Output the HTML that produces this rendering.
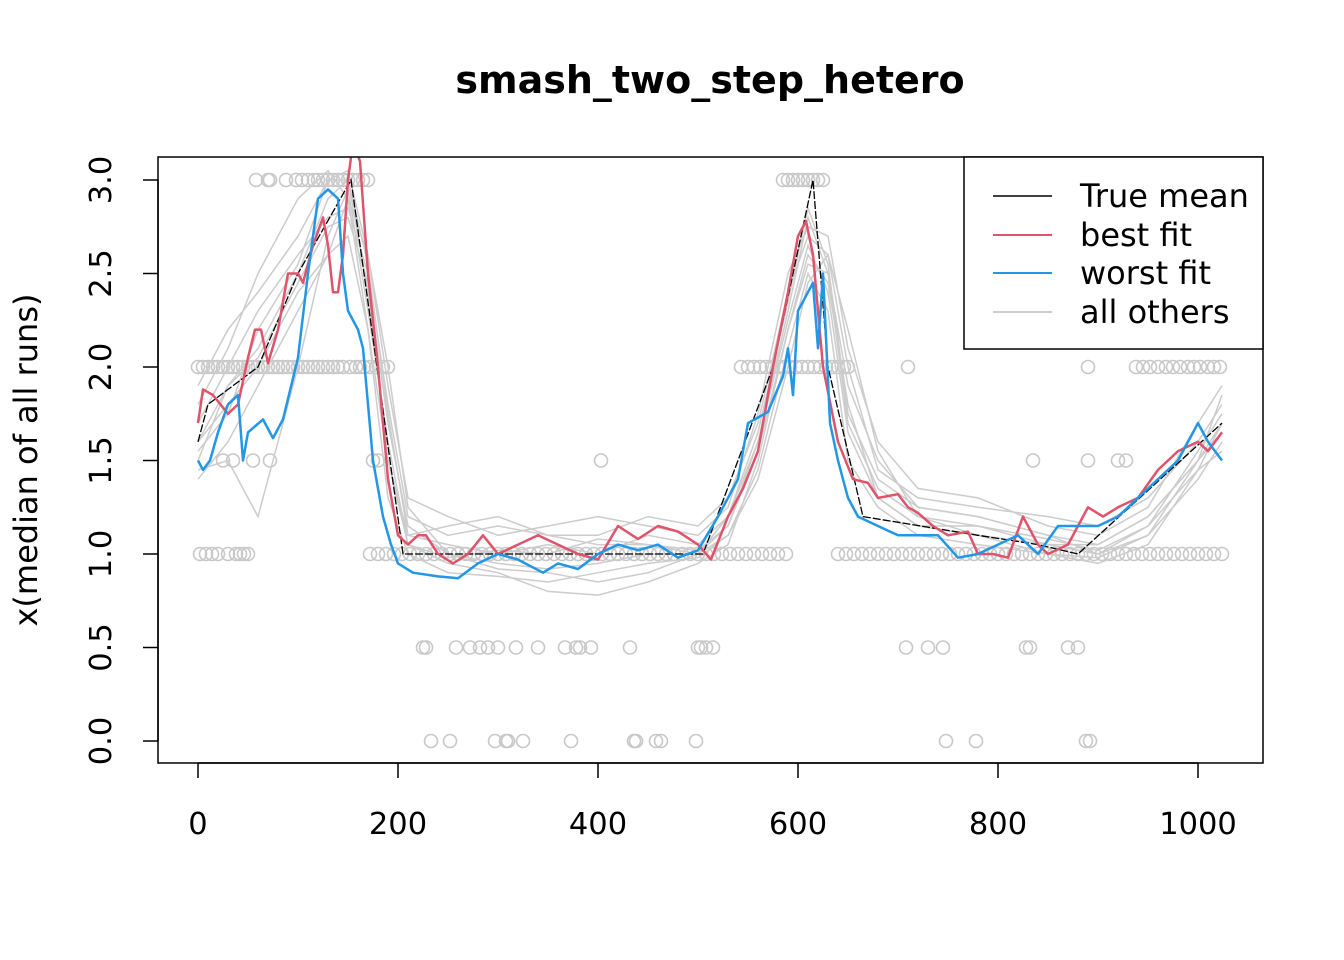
<!DOCTYPE html>
<html><head><meta charset="utf-8"><style>
body{margin:0;background:#fff}
svg{display:block;font-family:"DejaVu Sans","Liberation Sans",sans-serif}
</style></head><body>
<svg id="chart" width="1344" height="960">
<defs><clipPath id="clip"><rect x="158" y="157" width="1105" height="606"/></clipPath></defs>
<rect x="0" y="0" width="1344" height="960" fill="#fff"/>
<text x="710" y="93" text-anchor="middle" font-size="38" font-weight="bold">smash_two_step_hetero</text>
<g id="plot" clip-path="url(#clip)"></g>
<g id="axes"></g>
<rect x="158" y="157" width="1105" height="606" fill="none" stroke="#000" stroke-width="1.5"/>
<text transform="translate(37,460) rotate(-90)" text-anchor="middle" font-size="32">x(median of all runs)</text>
<g>
<rect x="964" y="157" width="299" height="192" fill="#fff" stroke="#000" stroke-width="1.5"/>
<line x1="993" y1="196" x2="1052" y2="196" stroke="#000" stroke-width="1.5"/>
<text x="1080" y="207" font-size="32">True mean</text>
<line x1="993" y1="235" x2="1052" y2="235" stroke="#df536b" stroke-width="2"/>
<text x="1080" y="246" font-size="32">best fit</text>
<line x1="993" y1="273" x2="1052" y2="273" stroke="#2297e6" stroke-width="2"/>
<text x="1080" y="284" font-size="32">worst fit</text>
<line x1="993" y1="312" x2="1052" y2="312" stroke="#cccccc" stroke-width="2"/>
<text x="1080" y="323" font-size="32">all others</text>
</g>
</svg>
<script>
const xTicks=[0,200,400,600,800,1000];
const yTicks=[0,0.5,1,1.5,2,2.5,3];
const yTickLabels=["0.0","0.5","1.0","1.5","2.0","2.5","3.0"];
const trueX=[0,10,60,100,153,205,505,575,615,630,665,780,840,880,1024];
const trueY=[1.6,1.8,2.0,2.5,3.0,1.0,1.0,2.0,3.0,2.0,1.2,1.1,1.05,1.0,1.7];
const bestX=[0,5,15,30,40,50,57,63,70,80,90,100,105,115,125,130,135,140,145,150,155,162,170,180,190,200,210,220,228,240,255,270,285,300,320,340,360,380,400,420,440,460,480,500,513,530,545,560,575,590,600,608,615,625,640,655,670,680,700,710,720,735,750,770,780,795,810,825,840,850,870,890,905,920,940,960,980,1000,1010,1024];
const bestY=[1.7,1.88,1.85,1.75,1.8,2.05,2.2,2.2,2.02,2.2,2.5,2.5,2.45,2.65,2.8,2.65,2.4,2.4,2.6,3.0,3.2,3.1,2.5,2.0,1.4,1.1,1.05,1.1,1.1,1.0,0.95,1.0,1.1,1.0,1.05,1.1,1.05,1.0,0.97,1.15,1.08,1.15,1.12,1.05,0.97,1.2,1.35,1.55,2.0,2.4,2.7,2.78,2.6,2.0,1.6,1.4,1.38,1.3,1.32,1.25,1.22,1.15,1.1,1.12,1.0,1.0,0.98,1.2,1.05,1.0,1.05,1.25,1.2,1.25,1.3,1.45,1.55,1.6,1.55,1.65];
const worstX=[0,5,12,20,30,40,45,50,65,75,85,100,110,120,130,140,145,150,160,165,175,185,193,200,215,240,260,280,300,320,345,360,380,400,420,440,460,480,500,520,540,550,570,585,590,595,600,610,615,620,625,632,640,650,660,680,700,720,740,760,780,800,820,840,860,880,900,920,940,960,980,1000,1010,1024];
const worstY=[1.5,1.45,1.5,1.65,1.8,1.85,1.5,1.65,1.72,1.62,1.72,2.05,2.5,2.9,2.95,2.9,2.5,2.3,2.2,2.1,1.5,1.2,1.05,0.95,0.9,0.88,0.87,0.95,1.0,0.97,0.9,0.95,0.92,1.0,1.05,1.02,1.05,0.98,1.02,1.2,1.4,1.7,1.76,1.95,2.1,1.85,2.3,2.4,2.45,2.1,2.5,1.7,1.5,1.3,1.2,1.15,1.1,1.1,1.1,0.98,1.0,1.05,1.1,1.0,1.15,1.15,1.15,1.2,1.3,1.4,1.5,1.7,1.6,1.5];
const grayX=[0,30,60,100,130,150,170,190,210,250,300,350,400,450,500,530,560,590,610,630,650,680,720,780,850,900,950,1000,1024];
const grayA=[1.5,1.9,2.1,2.5,2.9,3.0,2.4,1.5,1.1,1.05,1.0,1.05,1.0,1.1,1.05,1.2,1.6,2.3,2.8,2.5,1.7,1.35,1.2,1.15,1.05,1.05,1.2,1.5,1.7];
const grayB=[1.7,2.0,2.3,2.6,2.8,2.85,2.5,1.8,1.2,1.1,1.15,1.1,1.1,1.2,1.15,1.3,1.7,2.4,2.7,2.6,2.0,1.45,1.3,1.25,1.2,1.15,1.3,1.6,1.8];
const grayC=[1.4,1.6,1.9,2.3,2.6,2.9,2.2,1.3,1.0,0.9,0.88,0.85,0.9,0.95,0.98,1.1,1.45,2.1,2.5,2.3,1.5,1.25,1.1,1.05,1.0,0.98,1.1,1.4,1.6];
const grayD=[1.9,2.2,2.4,2.7,3.0,3.05,2.6,1.9,1.3,1.2,1.1,1.15,1.2,1.15,1.1,1.25,1.75,2.5,2.75,2.7,2.1,1.6,1.35,1.3,1.15,1.1,1.25,1.7,1.9];
const grayE=[1.45,1.5,1.2,2.0,2.7,2.95,2.3,1.6,1.05,0.95,0.9,0.8,0.78,0.85,0.95,1.05,1.5,2.2,2.6,2.45,1.8,1.3,1.15,1.1,1.0,0.95,1.05,1.45,1.55];
const grayF=[1.6,1.9,2.05,2.45,2.75,2.8,2.45,1.7,1.15,1.0,0.95,0.92,0.95,1.0,1.0,1.15,1.55,2.2,2.55,2.5,1.9,1.5,1.25,1.2,1.1,1.0,1.15,1.55,1.75];
const grayG=[1.55,1.75,2.2,2.55,3.0,3.0,2.55,1.75,1.1,1.15,1.2,1.1,1.05,1.05,1.0,1.2,1.65,2.35,2.85,2.55,1.75,1.4,1.25,1.2,1.1,1.05,1.2,1.5,1.65];
const grayH=[1.8,2.1,2.5,2.9,3.05,2.9,2.6,2.0,1.25,1.0,0.92,0.9,0.85,0.9,1.0,1.1,1.4,2.0,2.45,2.6,2.2,1.55,1.2,1.1,1.05,1.0,1.1,1.5,1.85];
const grayI=[1.6,1.8,2.0,2.4,2.6,2.7,2.2,1.5,1.05,0.98,1.02,1.0,1.08,1.05,1.02,1.15,1.6,2.25,2.65,2.4,1.65,1.3,1.15,1.15,1.08,1.02,1.15,1.45,1.7];
const graySeries=[grayA,grayB,grayC,grayD,grayE,grayF,grayG,grayH,grayI];
const obsX1=[2,8,14,20,30,38,42,46,50,172,180,188,196,204,212,220,228,236,244,252,260,268,276,284,292,300,308,316,324,332,340,348,356,364,372,380,388,396,404,412,420,428,436,444,452,460,468,476,484,492,500,508,516,524,532,540,548,556,564,572,580,588,640,648,656,664,672,680,688,696,704,712,720,728,736,744,752,760,768,776,784,792,800,808,816,824,832,840,848,856,864,872,880,888,896,904,912,920,928,936,944,952,960,968,976,984,992,1000,1008,1016,1024];
const obsX2=[0,5,10,15,20,25,30,35,40,45,50,55,60,65,70,75,80,85,90,95,100,105,110,115,120,125,130,135,140,145,152,158,162,166,172,178,185,190,543,550,556,562,568,574,580,586,592,598,604,610,616,622,628,634,640,646,650,710,890,938,945,952,960,968,975,982,990,996,1002,1010,1016,1022];
const obsX3=[58,70,72,88,98,104,110,116,120,125,130,135,140,145,150,155,160,165,170,585,590,595,600,605,610,615,620,625];
const obsX15=[25,35,55,72,175,180,403,835,890,920,928];
const obsX05=[225,228,258,272,282,290,300,318,340,367,378,382,393,432,500,503,508,515,708,730,745,828,832,870,880];
const obsX0=[233,252,297,308,310,325,373,436,438,458,463,498,748,778,888,892];

const NS="http://www.w3.org/2000/svg";
const sx=v=>198+v*1.0;
const sy=v=>741-v*187;
const plot=document.getElementById('plot');
const axes=document.getElementById('axes');
function mk(tag,attrs,parent){const e=document.createElementNS(NS,tag);for(const k in attrs)e.setAttribute(k,attrs[k]);parent.appendChild(e);return e;}
function pts(xs,ys){return xs.map((x,i)=>sx(x).toFixed(1)+','+sy(ys[i]).toFixed(1)).join(' ');}

const obsSets=[[obsX1,1],[obsX2,2],[obsX3,3],[obsX15,1.5],[obsX05,0.5],[obsX0,0]];
obsSets.forEach(([xs,yv])=>{xs.forEach(x=>{
  const c=mk('circle',{cx:sx(x),cy:sy(yv),r:6.5,fill:'none',stroke:'#c8c8c8','stroke-width':1.6},plot);
  
  
});});
graySeries.forEach(ys=>{
  const p=mk('polyline',{points:pts(grayX,ys),fill:'none',stroke:'#cccccc','stroke-width':1.5},plot);
  
  
});
const t=mk('polyline',{points:pts(trueX,trueY),fill:'none',stroke:'#000','stroke-width':1.3,'stroke-dasharray':'8,2'},plot);


const b=mk('polyline',{points:pts(bestX,bestY),fill:'none',stroke:'#df536b','stroke-width':2.5,'stroke-linejoin':'round'},plot);


const w=mk('polyline',{points:pts(worstX,worstY),fill:'none',stroke:'#2297e6','stroke-width':2.5,'stroke-linejoin':'round'},plot);



const xl=mk('line',{x1:sx(xTicks[0]),y1:763,x2:sx(xTicks[xTicks.length-1]),y2:763,stroke:'#000','stroke-width':1.5},axes);


xTicks.forEach(v=>{
  const tk=mk('line',{x1:sx(v),y1:763,x2:sx(v),y2:778,stroke:'#000','stroke-width':1.5},axes);
  
  
  const tx=mk('text',{x:sx(v),y:834,'text-anchor':'middle','font-size':30.5},axes);
  tx.textContent=String(v);
  
  
});
const yl=mk('line',{x1:158,y1:sy(yTicks[0]),x2:158,y2:sy(yTicks[yTicks.length-1]),stroke:'#000','stroke-width':1.5},axes);


yTicks.forEach((v,i)=>{
  const tk=mk('line',{x1:143,y1:sy(v),x2:158,y2:sy(v),stroke:'#000','stroke-width':1.5},axes);
  
  
  const tx=mk('text',{transform:`translate(111,${sy(v)}) rotate(-90)`,'text-anchor':'middle','font-size':30.5},axes);
  tx.textContent=yTickLabels[i];
  
  
});
</script>
</body></html>
